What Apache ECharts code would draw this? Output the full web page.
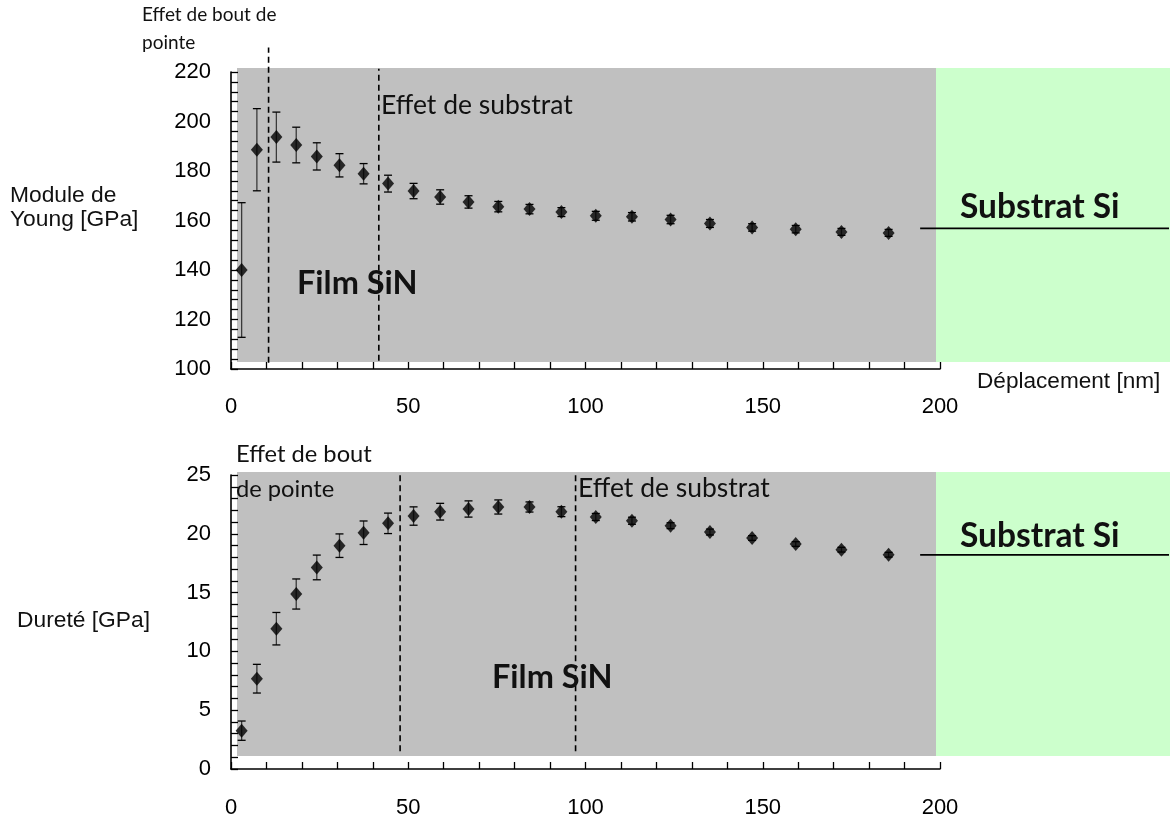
<!DOCTYPE html>
<html>
<head>
<meta charset="utf-8">
<script src="https://cdn.jsdelivr.net/npm/echarts@6/dist/echarts.min.js"></script>
<style>
html,body{margin:0;padding:0;background:#fff;}
#chart{width:1170px;height:823px;}
</style>
</head>
<body>
<div id="chart"></div>
<script>
// ---- data ----
const depth = [3.0, 7.3, 12.8, 18.4, 24.2, 30.6, 37.4, 44.3, 51.5, 59.0, 67.0, 75.4, 84.2, 93.2, 102.9, 113.1, 124.0, 135.1, 147.0, 159.3, 172.2, 185.5];
const modulus = [140.0, 188.6, 193.7, 190.5, 185.9, 182.3, 178.9, 174.9, 171.9, 169.5, 167.5, 165.6, 164.6, 163.4, 161.9, 161.5, 160.4, 158.8, 157.2, 156.5, 155.4, 155.0];
const modulusErr = [27.2, 16.6, 10.1, 7.2, 5.5, 4.7, 4.1, 3.4, 3.1, 2.9, 2.5, 2.1, 1.9, 1.8, 1.8, 1.7, 1.7, 1.6, 1.5, 1.5, 1.4, 1.4];
const hardness = [3.26, 7.68, 11.93, 14.88, 17.14, 18.99, 20.09, 20.89, 21.51, 21.88, 22.11, 22.28, 22.28, 21.88, 21.43, 21.11, 20.69, 20.15, 19.64, 19.13, 18.65, 18.22];
const hardnessErr = [0.82, 1.22, 1.38, 1.28, 1.05, 1.0, 1.0, 0.87, 0.78, 0.71, 0.69, 0.6, 0.43, 0.42, 0.3, 0.3, 0.25, 0.25, 0.2, 0.2, 0.2, 0.2];
const xTicks = [0, 50, 100, 150, 200];
const modulusTicks = [100, 120, 140, 160, 180, 200, 220];
const hardnessTicks = [0, 5, 10, 15, 20, 25];
// reference lines (data units)
const tipLineE = [[10.6, 102.5], [10.6, 229.9]];
const subLineE = [[41.7, 103.3], [41.7, 221.3]];
const tipLineH = [[47.7, 1.5], [47.7, 25.3]];
const subLineH = [[97.2, 1.5], [97.2, 25.3]];
const substrateE = [[194.4, 156.8], [264.6, 156.8]];
const substrateH = [[194.4, 18.2], [264.6, 18.2]];

// ---- build ----
const ptsE = depth.map((d, i) => [d, modulus[i]]);
const errE = depth.map((d, i) => [d, modulus[i] - modulusErr[i], modulus[i] + modulusErr[i]]);
const ptsH = depth.map((d, i) => [d, hardness[i]]);
const errH = depth.map((d, i) => [d, hardness[i] - hardnessErr[i], hardness[i] + hardnessErr[i]]);

const AX = 'Liberation Sans, Arial, sans-serif';
const CAL = 'Lato, Carlito, Calibri, sans-serif';

function errRender(params, api) {
  const x = api.value(0), lo = api.value(1), hi = api.value(2);
  const a = api.coord([x, hi]), b = api.coord([x, lo]);
  const w = 4;
  return {type: 'group', children: [
    {type: 'line', shape: {x1: a[0], y1: a[1], x2: b[0], y2: b[1]}, style: {stroke: '#3a3a3a', lineWidth: 1.3}},
    {type: 'line', shape: {x1: a[0] - w, y1: a[1], x2: a[0] + w, y2: a[1]}, style: {stroke: '#000', lineWidth: 1.3}},
    {type: 'line', shape: {x1: b[0] - w, y1: b[1], x2: b[0] + w, y2: b[1]}, style: {stroke: '#000', lineWidth: 1.3}}
  ]};
}

function xAxisCfg(gi, margin) {
  return {
    type: 'value', gridIndex: gi, min: 0, max: 200, interval: 10,
    axisLine: {show: true, onZero: false, lineStyle: {color: '#000', width: 1.6}},
    axisTick: {show: true, inside: true, length: 7, lineStyle: {color: '#000', width: 1.3}},
    splitLine: {show: false},
    axisLabel: {
      margin: margin, color: '#000', fontFamily: AX, fontSize: 22,
      formatter: v => (xTicks.indexOf(v) >= 0 ? String(v) : '')
    }
  };
}
function yAxisCfg(gi, min, max, interval, ticks) {
  return {
    type: 'value', gridIndex: gi, min: min, max: max, interval: interval,
    axisLine: {show: true, onZero: false, lineStyle: {color: '#000', width: 1.6}},
    axisTick: {show: true, inside: true, length: 7, lineStyle: {color: '#000', width: 1.3}},
    minorTick: {show: true, splitNumber: 5, length: 7, lineStyle: {color: '#000', width: 1.3}},
    splitLine: {show: false},
    axisLabel: {
      margin: 20, color: '#000', fontFamily: AX, fontSize: 22,
      formatter: v => (ticks.indexOf(v) >= 0 ? String(v) : '')
    }
  };
}
function segLine(xi, yi, data, dashed) {
  return {
    type: 'custom', xAxisIndex: xi, yAxisIndex: yi, clip: false, silent: true, z: 3,
    data: [[data[0][0], data[0][1], data[1][0], data[1][1]]],
    encode: {x: [0, 2], y: [1, 3]},
    renderItem: function (params, api) {
      const a = api.coord([api.value(0), api.value(1)]);
      const b = api.coord([api.value(2), api.value(3)]);
      return {type: 'line', shape: {x1: a[0], y1: a[1], x2: b[0], y2: b[1]},
        style: {stroke: '#000', lineWidth: dashed ? 1.6 : 1.8, lineDash: dashed ? [6, 4] : null}};
    }
  };
}
function txt(x, y, s, size, bold, fam) {
  return {type: 'text', left: x, top: y, z: 10, style: {
    text: s, fill: '#111', font: (bold ? 'bold ' : '') + size + 'px ' + (fam || CAL),
    textVerticalAlign: 'top'
  }};
}

const chart = echarts.init(document.getElementById('chart'), null, {renderer: 'canvas'});
chart.setOption({
  animation: false,
  backgroundColor: '#fff',
  grid: [
    {left: 231, top: 72, width: 709, height: 297},
    {left: 231, top: 475, width: 709, height: 294}
  ],
  xAxis: [xAxisCfg(0, 27), xAxisCfg(1, 28)],
  yAxis: [yAxisCfg(0, 100, 220, 20, modulusTicks), yAxisCfg(1, 0, 25, 5, hardnessTicks)],
  graphic: [
    {type: 'rect', z: -1, shape: {x: 237, y: 68, width: 699, height: 294}, style: {fill: '#c0c0c0'}},
    {type: 'rect', z: -1, shape: {x: 936, y: 68, width: 234, height: 294}, style: {fill: '#ccffcc'}},
    {type: 'rect', z: -1, shape: {x: 237, y: 472, width: 699, height: 284}, style: {fill: '#c0c0c0'}},
    {type: 'rect', z: -1, shape: {x: 936, y: 472, width: 234, height: 284}, style: {fill: '#ccffcc'}},
    txt(142, 5, 'Effet de bout de', 19),
    txt(142, 33, 'pointe', 19),
    txt(381, 92, 'Effet de substrat', 26.5),
    txt(297, 267, 'Film SiN', 32.5, true),
    txt(960, 190, 'Substrat Si', 33.5, true),
    txt(236, 442, 'Effet de bout', 23.7),
    txt(236, 477, 'de pointe', 23.7),
    txt(578, 475, 'Effet de substrat', 26.5),
    txt(492, 661, 'Film SiN', 32.5, true),
    txt(960, 519, 'Substrat Si', 33.5, true),
    txt(10, 184, 'Module de', 22.8, false, AX),
    txt(10, 208, 'Young [GPa]', 22.8, false, AX),
    txt(17, 609, 'Dureté [GPa]', 22.8, false, AX),
    txt(977, 370, 'Déplacement [nm]', 22.6, false, AX)
  ],
  series: [
    segLine(0, 0, tipLineE, true),
    segLine(0, 0, subLineE, true),
    segLine(0, 0, substrateE, false),
    segLine(1, 1, tipLineH, true),
    segLine(1, 1, subLineH, true),
    segLine(1, 1, substrateH, false),
    {type: 'custom', xAxisIndex: 0, yAxisIndex: 0, data: errE, renderItem: errRender, encode: {x: 0, y: [1, 2]}, z: 4, silent: true},
    {type: 'custom', xAxisIndex: 1, yAxisIndex: 1, data: errH, renderItem: errRender, encode: {x: 0, y: [1, 2]}, z: 4, silent: true},
    {type: 'scatter', xAxisIndex: 0, yAxisIndex: 0, data: ptsE, symbol: 'diamond', symbolSize: [12, 14], itemStyle: {color: '#000'}, z: 5},
    {type: 'scatter', xAxisIndex: 1, yAxisIndex: 1, data: ptsH, symbol: 'diamond', symbolSize: [12, 14], itemStyle: {color: '#000'}, z: 5}
  ]
});
</script>
</body>
</html>
